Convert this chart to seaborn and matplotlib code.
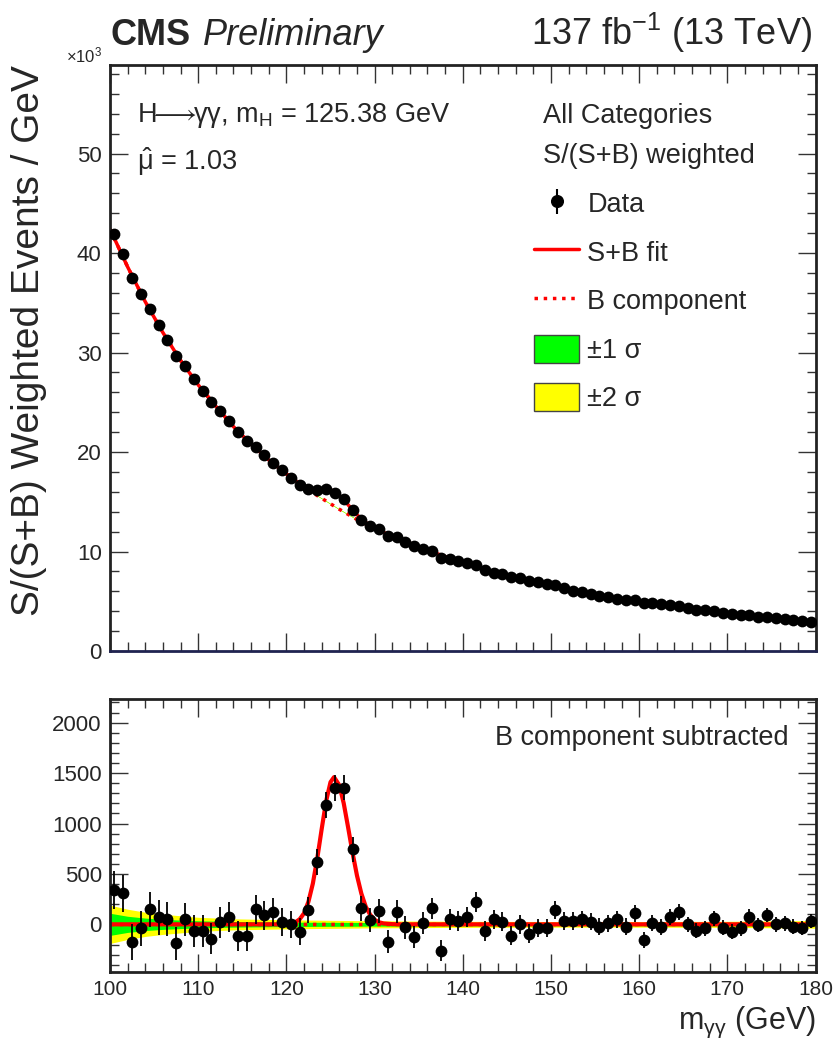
import numpy as np
import seaborn as sns
import matplotlib
matplotlib.use("Agg")
import matplotlib.pyplot as plt
from matplotlib.lines import Line2D
from matplotlib.patches import Patch
from matplotlib.ticker import MultipleLocator, FuncFormatter

# ---- data ---------------------------------------------------------------
# bin centres of the 1 GeV bins between 100 and 180 GeV
mass = np.arange(100.5, 180.0, 1.0)

# weighted events / GeV (x 10^3), upper panel
events_k = [
    41.9, 39.9, 37.5, 35.9, 34.4, 32.8, 31.3, 29.7, 28.6, 27.3,
    26.1, 25.0, 24.1, 23.1, 22.0, 21.1, 20.5, 19.7, 18.9, 18.2,
    17.4, 16.7, 16.3, 16.2, 16.25, 15.9, 15.3, 14.2, 13.2, 12.55,
    12.3, 11.55, 11.5, 11.0, 10.55, 10.3, 10.1, 9.4, 9.3, 9.07,
    8.8, 8.6, 8.1, 7.85, 7.7, 7.45, 7.3, 7.05, 6.9, 6.7,
    6.6, 6.3, 6.05, 5.95, 5.7, 5.5, 5.4, 5.2, 5.1, 5.1,
    4.8, 4.8, 4.7, 4.6, 4.5, 4.35, 4.1, 4.1, 4.05, 3.85,
    3.7, 3.6, 3.6, 3.45, 3.4, 3.3, 3.2, 3.1, 3.0, 2.95,
]

# background subtracted data, lower panel
residual = [
    340, 307, -172, -40, 149, 69, 50, -189, 50, -63,
    -63, -143, 20, 75, -113, -119, 149, 89, 119, 20,
    0, -73, 142, 621, 1183, 1349, 1355, 747, 159, 43,
    132, -172, 125, -30, -123, 10, 159, -262, 50, 36,
    75, 224, -66, 50, 26, -113, 0, -93, -36, -36,
    142, 33, 33, 50, 26, -23, 10, 50, -23, 109,
    -155, 10, -23, 76, 119, 0, -63, -40, 60, -33,
    -73, -40, 76, -7, 93, 0, 10, -23, -33, 36,
]

# statistical uncertainty per bin (events)
errors = [
    185, 180, 178, 175, 172, 170, 168, 165, 162, 160,
    158, 155, 152, 150, 148, 146, 144, 142, 140, 138,
    136, 134, 132, 130, 130, 128, 126, 124, 122, 120,
    118, 116, 114, 112, 110, 108, 106, 104, 102, 100,
    100, 98, 97, 96, 95, 94, 93, 92, 91, 90,
    89, 88, 87, 86, 85, 84, 84, 83, 82, 81,
    80, 80, 79, 78, 78, 77, 77, 76, 76, 75,
    75, 74, 74, 73, 73, 72, 72, 72, 71, 71,
]

# background component of the fit (x 10^3)
bkg_mass = [100, 102, 104, 106, 108, 110, 112, 114, 116, 118, 120,
            122, 124, 126, 128, 130, 132, 134, 136, 138, 140,
            142, 144, 146, 148, 150, 152, 154, 156, 158, 160,
            162, 164, 166, 168, 170, 172, 174, 176, 178, 180]
bkg_k = [42.4, 38.6, 35.1, 32.0, 29.2, 26.75, 24.6, 22.55, 20.8, 19.2, 17.8,
         16.45, 15.35, 14.25, 13.22, 12.3, 11.55, 10.85, 10.12, 9.5, 8.9,
         8.3, 7.8, 7.4, 7.02, 6.62, 6.18, 5.8, 5.47, 5.17, 4.93,
         4.72, 4.47, 4.25, 4.05, 3.84, 3.6, 3.4, 3.25, 3.08, 2.92]

# signal component of the fit (events)
sig_mass = [100, 119, 120, 120.5, 121, 121.5, 122, 122.5, 123, 123.5, 124,
            124.5, 125, 125.4, 126, 126.5, 127, 127.5, 128, 128.5, 129,
            129.5, 130, 130.5, 131, 132, 133, 180]
sig_events = [0, 0, 3, 8, 20, 50, 110, 225, 405, 655, 945,
              1220, 1410, 1460, 1380, 1200, 960, 710, 485, 305, 175,
              95, 46, 21, 9, 2, 0, 0]

# background uncertainty bands (events)
band_mass = [100, 102, 104, 106, 108, 110, 114, 120, 130, 140, 150, 160, 170, 180]
band_1s = [110, 80, 62, 50, 42, 35, 28, 22, 18, 15, 14, 14, 15, 19]
band_2s = [190, 150, 120, 100, 85, 70, 55, 45, 35, 30, 28, 28, 30, 38]

# ---- style ---------------------------------------------------------------
sns.set_style("ticks")
plt.rcParams["font.family"] = ["Liberation Sans", "DejaVu Sans"]
plt.rcParams["mathtext.fontset"] = "custom"
plt.rcParams["mathtext.rm"] = "Liberation Sans"
plt.rcParams["mathtext.it"] = "Liberation Sans:italic"
plt.rcParams["mathtext.bf"] = "Liberation Sans:bold"

GREEN = "#00ff00"
YELLOW = "#ffff00"
RED = "#ff0000"
TXT = 19.5

fig = plt.figure(figsize=(8.33, 10.56), dpi=100)
ax1 = fig.add_axes([0.1321, 0.3835, 0.8469, 0.5549])
ax2 = fig.add_axes([0.1321, 0.0798, 0.8469, 0.2583])

# combined S+B curve on a fine grid built from the two components
grid = np.union1d(bkg_mass, sig_mass)
bkg_grid = np.interp(grid, bkg_mass, bkg_k)
sig_grid = np.interp(grid, sig_mass, sig_events)
b1 = np.interp(grid, band_mass, band_1s)
b2 = np.interp(grid, band_mass, band_2s)

# ---- upper panel ---------------------------------------------------------
ax1.fill_between(grid, bkg_grid - b2 / 1000, bkg_grid + b2 / 1000, color=YELLOW, lw=0)
ax1.fill_between(grid, bkg_grid - b1 / 1000, bkg_grid + b1 / 1000, color=GREEN, lw=0)
sns.lineplot(x=bkg_mass, y=bkg_k, ax=ax1, color=RED, lw=2.5, linestyle=":")
sns.lineplot(x=grid, y=bkg_grid + sig_grid / 1000, ax=ax1, color=RED, lw=2.5)
ax1.errorbar(mass, events_k, yerr=np.array(errors) / 1000, fmt="none",
             ecolor="black", elinewidth=1.5, zorder=4)
sns.scatterplot(x=mass, y=events_k, ax=ax1, color="black", s=72,
                linewidth=0, zorder=5)

ax1.set_xlim(100, 180)
ax1.set_ylim(0, 58.9)
ax1.xaxis.set_major_locator(MultipleLocator(10))
ax1.xaxis.set_minor_locator(MultipleLocator(2))
ax1.yaxis.set_major_locator(MultipleLocator(10))
ax1.yaxis.set_minor_locator(MultipleLocator(2))
ax1.set_xticklabels([])
ax1.set_xlabel("")
ax1.set_ylabel("S/(S+B) Weighted Events / GeV", fontsize=28, loc="top")
ax1.yaxis.set_label_coords(-0.089, 1.0)

ax1.text(0.038, 0.903, "H$\\!\\!\\longrightarrow\\!\\!$γγ, m$_{\\rm H}$ = 125.38 GeV",
         transform=ax1.transAxes, fontsize=TXT, va="baseline")
ax1.text(0.038, 0.821, "$\\hat{\\mathregular{μ}}$ = 1.03", transform=ax1.transAxes,
         fontsize=TXT, va="baseline")
ax1.text(0.614, 0.901, "All Categories", transform=ax1.transAxes,
         fontsize=TXT, va="baseline")
ax1.text(0.614, 0.833, "S/(S+B) weighted", transform=ax1.transAxes,
         fontsize=TXT, va="baseline")

handles = [
    (Line2D([], [], marker="o", color="black", ls="none", markersize=8.4),
     Line2D([], [], marker="|", color="black", ls="none", markersize=18, mew=1.5)),
    Line2D([], [], color=RED, lw=2.5),
    Line2D([], [], color=RED, lw=2.5, ls=":"),
    Patch(facecolor=GREEN, edgecolor="#444444", lw=1),
    Patch(facecolor=YELLOW, edgecolor="#444444", lw=1),
]
labels = ["Data", "S+B fit", "B component", "±1 σ", "±2 σ"]
ax1.legend(handles, labels, loc="upper left", bbox_to_anchor=(0.601, 0.788),
           frameon=False, fontsize=TXT, handlelength=1.67, handleheight=1.22,
           handletextpad=0.3, labelspacing=0.71, borderpad=0, borderaxespad=0)

# ---- lower panel ---------------------------------------------------------
ax2.fill_between(grid, -b2, b2, color=YELLOW, lw=0)
ax2.fill_between(grid, -b1, b1, color=GREEN, lw=0)
sns.lineplot(x=bkg_mass, y=np.zeros(len(bkg_mass)), ax=ax2, color=RED, lw=2.5, linestyle=":")
sns.lineplot(x=sig_mass, y=sig_events, ax=ax2, color=RED, lw=3)
ax2.errorbar(mass, residual, yerr=errors, fmt="none", ecolor="black",
             elinewidth=1.3, zorder=4)
sns.scatterplot(x=mass, y=residual, ax=ax2, color="black", s=72,
                linewidth=0, zorder=5)

ax2.set_xlim(100, 180)
ax2.set_ylim(-470, 2235)
ax2.xaxis.set_major_locator(MultipleLocator(10))
ax2.xaxis.set_minor_locator(MultipleLocator(2))
ax2.yaxis.set_major_locator(MultipleLocator(500))
ax2.yaxis.set_minor_locator(MultipleLocator(100))
ax2.set_ylabel("")
ax2.set_xlabel("m$_{\\mathregular{γγ}}$ (GeV)", fontsize=22, loc="right")
ax2.text(0.9624, 0.831, "B component subtracted", transform=ax2.transAxes,
         fontsize=TXT, ha="right", va="baseline")

for ax in (ax1, ax2):
    ax.tick_params(which="both", direction="in", top=True, right=True,
                   color="#333333", width=1, labelsize=16, pad=6)
    ax.tick_params(which="major", length=13)
    ax.tick_params(which="minor", length=6.5)
    for sp in ax.spines.values():
        sp.set_linewidth(2)
        sp.set_color("#222222")
ax2.tick_params(axis="x", labelsize=15)
ax1.spines["bottom"].set_color("#1f2350")
ax2.yaxis.set_major_formatter(FuncFormatter(lambda v, p: "" if v < 0 else f"{v:.0f}"))

# ---- header --------------------------------------------------------------
fig.text(110 / 833, 1 - 45 / 1056, "CMS", fontsize=26, fontweight="bold", va="baseline")
fig.text(203 / 833, 1 - 45 / 1056, "Preliminary", fontsize=26, style="italic", va="baseline")
fig.text(812 / 833, 1 - 45 / 1056, "137 fb$^{-1}$ (13 TeV)", fontsize=26,
         ha="right", va="baseline")
fig.text(66 / 833, 1 - 62 / 1056, "×10$^{3}$", fontsize=12, va="baseline")

fig.savefig("out.png", dpi=100, facecolor="white")
